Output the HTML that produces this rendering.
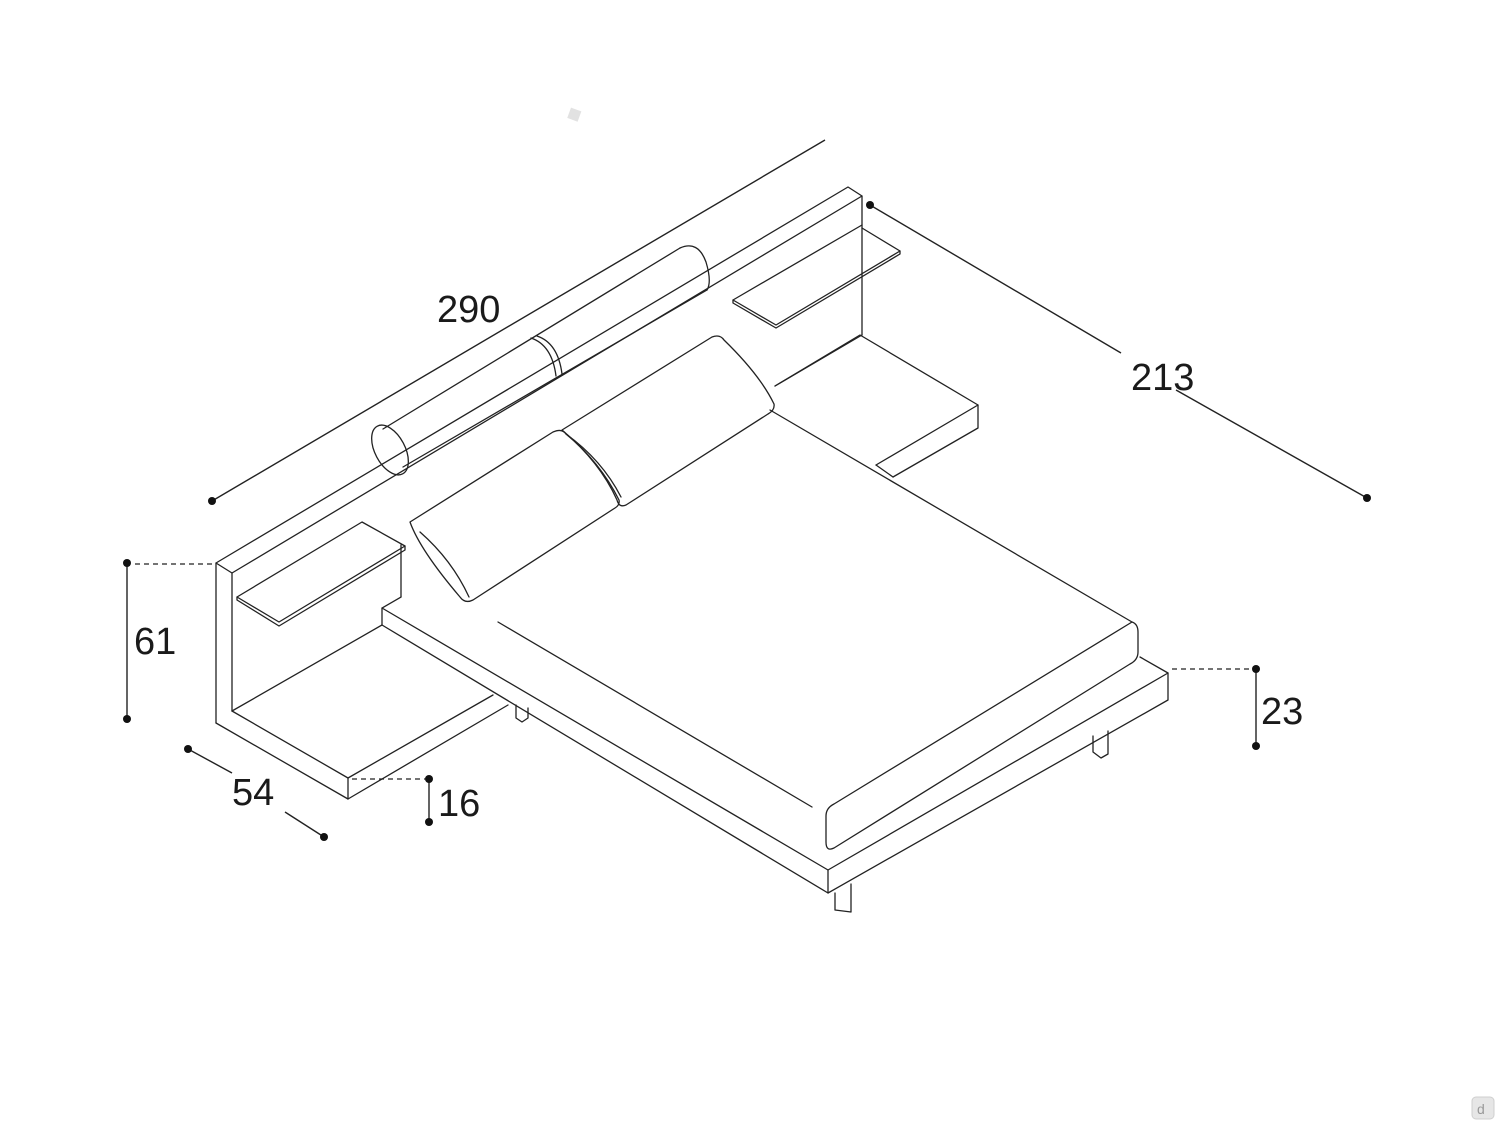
<!DOCTYPE html>
<html><head><meta charset="utf-8"><style>
html,body{margin:0;padding:0;background:#fff;}
svg{display:block}
text{font-family:"Liberation Sans",Arial,sans-serif;fill:#1a1a1a;}
</style></head><body>
<svg width="1500" height="1125" viewBox="0 0 1500 1125" xmlns="http://www.w3.org/2000/svg">
<g fill="none" stroke="#222" stroke-width="1.3" stroke-linejoin="round" stroke-linecap="round">
<!-- headboard -->
<polyline points="216,723 216,563 848,187 862,196 862,335"/>
<polyline points="216,563 232,573 862,196"/>
<line x1="232" y1="573" x2="232" y2="711"/>
<line x1="401" y1="545" x2="401" y2="597"/>
<line x1="862" y1="335" x2="775" y2="386"/>
<!-- left shelf -->
<polygon points="237,597 279,622 405,546 362,522"/>
<polyline points="237,597 237,600 279,626 405,550 405,546"/>
<!-- right shelf -->
<polyline points="862,225 733,300 776,325 900,251 862,228"/>
<polyline points="733,300 733,303 776,328 900,254 900,251"/>
<!-- left nightstand -->
<polyline points="216,723 348,799 348,778 232,711"/>
<polyline points="348,778 493,695"/>
<polyline points="348,799 508,705"/>
<line x1="232" y1="711" x2="382" y2="625"/>
<!-- right nightstand -->
<polyline points="775,386 860,335 978,405 876,465"/>
<polyline points="978,405 978,428 893,477"/>
<line x1="876" y1="465" x2="893" y2="477"/>
<!-- bed frame -->
<polyline points="401,597 382,608 828,870 1168,673 1140,657"/>
<polyline points="382,608 382,625 828,893 1168,700 1168,673"/>
<line x1="828" y1="870" x2="828" y2="893"/>
<!-- legs -->
<polyline points="835,893 835,910 851,912 851,884"/>
<polyline points="1093,736 1093,752 1101,758 1108,754 1108,731"/>
<polyline points="516,705 516,718 522,722 528,718 528,708"/>
<!-- mattress -->
<line x1="770" y1="410" x2="1132" y2="622"/>
<line x1="498" y1="622" x2="812" y2="807"/>
<path d="M1132,622 Q1138,624 1138,632 L1138,652 Q1138,660 1130,664 L834,848 Q826,852 826,842 L826,816 Q826,808 834,804 L1132,622"/>
<!-- bolster -->
<line x1="383" y1="429" x2="680" y2="248"/>
<line x1="403" y1="467" x2="707" y2="290"/>
<ellipse cx="390" cy="450" rx="15" ry="27" transform="rotate(-28 390 450)"/>
<path d="M680,248 Q698,240 706,262 Q712,282 707,290"/>
<path d="M531,338 Q552,345 556,376"/>
<path d="M537,336 Q558,343 562,374"/>
<!-- back pillow -->
<path d="M562,430 L712,337 Q720,334 724,340 Q760,375 774,404 Q775,410 768,414 L626,505 Q619,508 617,500 Q600,462 562,430 Z"/>
<path d="M566,434 Q602,460 621,497"/>
<!-- front pillow -->
<path d="M410,522 L553,432 Q562,428 566,434 Q600,462 619,500 Q620,505 615,508 L473,600 Q465,604 460,597 Q420,550 410,522 Z"/>
<path d="M420,532 Q452,560 469,597"/>
</g>
<!-- dimensions -->
<g stroke="#222" stroke-width="1.4" fill="none">
<line x1="212" y1="501" x2="825" y2="140"/>
<line x1="870" y1="205" x2="1121" y2="353"/>
<line x1="1176" y1="390" x2="1367" y2="498"/>
<line x1="127" y1="563" x2="127" y2="719"/>
<line x1="188" y1="749" x2="232" y2="773"/>
<line x1="285" y1="812" x2="324" y2="837"/>
<line x1="429" y1="779" x2="429" y2="822"/>
<line x1="1256" y1="669" x2="1256" y2="746"/>
</g>
<g stroke="#222" stroke-width="1.2" fill="none" stroke-dasharray="5,4">
<line x1="135" y1="564" x2="212" y2="564"/>
<line x1="352" y1="779" x2="425" y2="779"/>
<line x1="1172" y1="669" x2="1252" y2="669"/>
</g>
<g fill="#111">
<circle cx="212" cy="501" r="4"/>
<circle cx="870" cy="205" r="4"/>
<circle cx="1367" cy="498" r="4"/>
<circle cx="127" cy="563" r="4"/>
<circle cx="127" cy="719" r="4"/>
<circle cx="188" cy="749" r="4"/>
<circle cx="324" cy="837" r="4"/>
<circle cx="429" cy="779" r="4"/>
<circle cx="429" cy="822" r="4"/>
<circle cx="1256" cy="669" r="4"/>
<circle cx="1256" cy="746" r="4"/>
</g>
<g font-size="38">
<text x="437" y="322">290</text>
<text x="1131" y="390">213</text>
<text x="134" y="654">61</text>
<text x="232" y="805">54</text>
<text x="438" y="816">16</text>
<text x="1261" y="724">23</text>
</g>
<rect x="569" y="109" width="11" height="11" fill="#e2e2e2" transform="rotate(20 574 114)"/>
<rect x="1472" y="1097" width="22" height="22" rx="4" fill="#e6e6e6" stroke="#cfcfcf"/>
<text x="1477" y="1114" font-size="14" style="fill:#999">d</text>
</svg>
</body></html>
